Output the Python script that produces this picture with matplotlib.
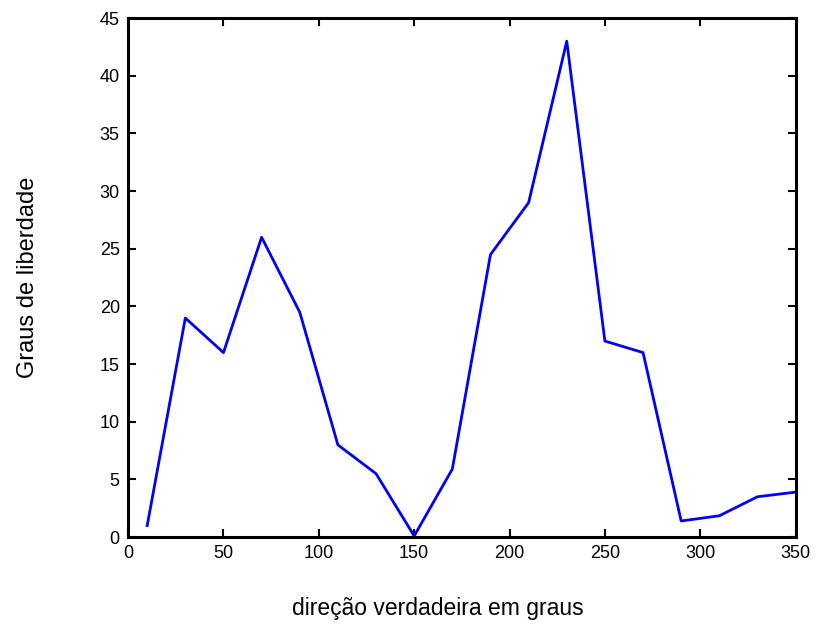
import matplotlib
matplotlib.use('Agg')
from matplotlib import pyplot as plt

# direction (degrees) and degrees of freedom
direcao = [10, 30, 50, 70, 90, 110, 130, 150, 170, 190, 210, 230, 250, 270, 290, 310, 330, 350]
graus = [1.0, 19.0, 16.0, 26.0, 19.5, 8.0, 5.5, 0.1, 5.9, 24.5, 29.0, 43.0, 17.0, 16.0, 1.4, 1.85, 3.5, 3.9]

xticks = [0, 50, 100, 150, 200, 250, 300, 350]
yticks = [0, 5, 10, 15, 20, 25, 30, 35, 40, 45]

plt.rcParams['font.family'] = ['Liberation Sans', 'DejaVu Sans']

fig = plt.figure(figsize=(8.16, 6.26), dpi=100)
ax = fig.add_axes([0.157, 0.142, 0.818, 0.829])

ax.plot(direcao, graus, color='#0000ff', linewidth=2)

ax.set_xlim(0, 350)
ax.set_ylim(0, 45)
ax.set_xticks(xticks)
ax.set_yticks(yticks)
ax.tick_params(direction='in', length=6, width=1.5, top=True, right=True,
               labelsize=13, pad=6)

for s in ax.spines.values():
    s.set_linewidth(2.2)

ax.set_xlabel('direção verdadeira em graus', fontsize=16.5, labelpad=26)
ax.xaxis.set_label_coords(0.464, -0.115)
ax.set_ylabel('Graus de liberdade', fontsize=17, labelpad=44)

fig.savefig('out.png', dpi=100)
